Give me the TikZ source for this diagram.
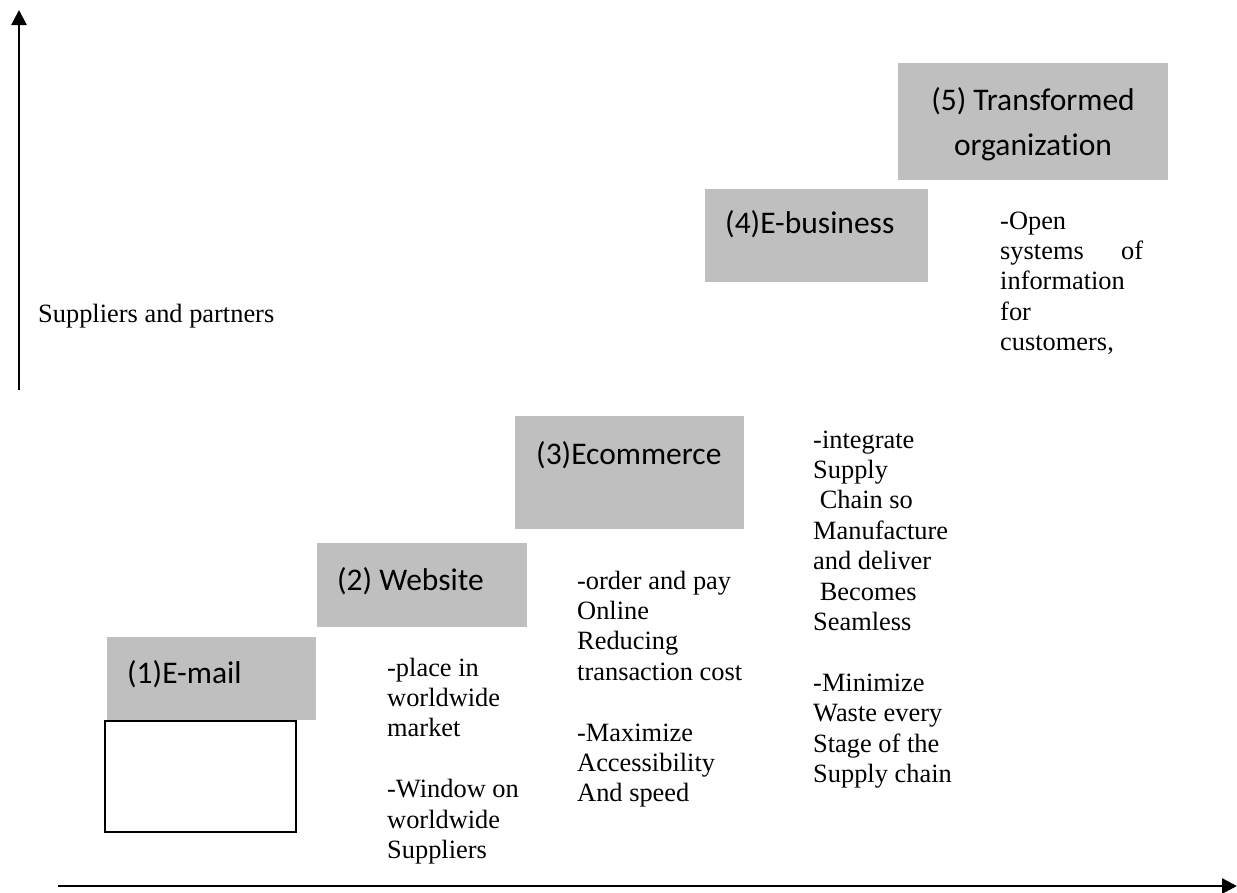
\documentclass[tikz,border=0pt]{standalone}
\usepackage{fontspec}
\setmainfont{Liberation Serif}
\newfontfamily\labelfont[Ligatures={NoCommon,NoContextual}]{Carlito}
\usetikzlibrary{arrows.meta}
\definecolor{stagegray}{HTML}{BFBFBF}
% left-aligned block of lines, fixed line pitch, baseline = first line
\newcommand\leftlines[1]{\vtop{\baselineskip=30.4pt\lineskiplimit=-100pt\lineskip=0pt
  \halign{##\hfil\cr#1\crcr}}}
\newcommand\centerlines[1]{\vtop{\baselineskip=45pt\lineskiplimit=-100pt\lineskip=0pt
  \halign{\hfil##\hfil\cr#1\crcr}}}
\begin{document}
\begin{tikzpicture}[x=1pt,y=-1pt,
  axis/.style={line width=2.6pt,-{Triangle[length=15pt,width=15pt]}},
  stagebox/.style={fill=stagegray,draw=none,inner sep=0pt},
  stagelabel/.style={inner sep=0pt,font=\labelfont\fontsize{31.5}{45}\selectfont},
  note/.style={inner sep=0pt,anchor=base west,font=\fontsize{26.4}{30.4}\selectfont}]
\useasboundingbox (0,0) rectangle (1237,892);

% axes
\coordinate (yfoot) at (19,390);
\coordinate (ytip) at (19,10);
\coordinate (xfoot) at (58,886);
\coordinate (xtip) at (1237,886);
\draw[axis] (yfoot) -- (ytip);
\draw[axis] (xfoot) -- (xtip);

% stage boxes
\node[stagebox,minimum width=209pt,minimum height=83pt] (b1) at (211.5,678.5) {};
\node[draw=black,line width=1.8pt,fill=white,inner sep=0pt,minimum width=191pt,minimum height=111pt] (blank) at (200.5,776.5) {};
\node[stagebox,minimum width=210pt,minimum height=84pt] (b2) at (422,585) {};
\node[stagebox,minimum width=229pt,minimum height=113pt] (b3) at (629.5,472.5) {};
\node[stagebox,minimum width=223pt,minimum height=93pt] (b4) at (816.5,235.5) {};
\node[stagebox,minimum width=270pt,minimum height=117pt] (b5) at (1033,121.5) {};

% stage titles
\node[stagelabel,anchor=base west] (t1) at (127,683) {(1)E-mail};
\node[stagelabel,anchor=base west] (t2) at (337,590) {(2) Website};
\node[stagelabel,anchor=base west] (t3) at (536,464) {(3)Ecommerce};
\node[stagelabel,anchor=base west] (t4) at (725,233) {(4)E-business};
\node[stagelabel,anchor=base] (t5) at (1033,110) {\centerlines{(5) Transformed\cr organization}};

% axis caption
\node[note] (cap) at (38,322) {Suppliers and partners};

% stage notes
\node[note] (n2) at (387,676) {\leftlines{-place in\cr worldwide\cr market\cr \cr -Window on\cr worldwide\cr Suppliers}};
\node[note] (n3) at (577,589) {\leftlines{-order and pay\cr Online\cr Reducing\cr transaction cost\cr \cr -Maximize\cr Accessibility\cr And speed}};
\node[note] (n4) at (813,448) {\leftlines{-integrate\cr Supply\cr \ Chain so\cr Manufacture\cr and deliver\cr \ Becomes\cr Seamless\cr \cr -Minimize\cr Waste every\cr Stage of the\cr Supply chain}};
\node[note] (n5) at (1000,229) {\leftlines{-Open\cr \hbox to 143pt{systems\hfill of}\cr information\cr for\cr customers,}};
\end{tikzpicture}
\end{document}
